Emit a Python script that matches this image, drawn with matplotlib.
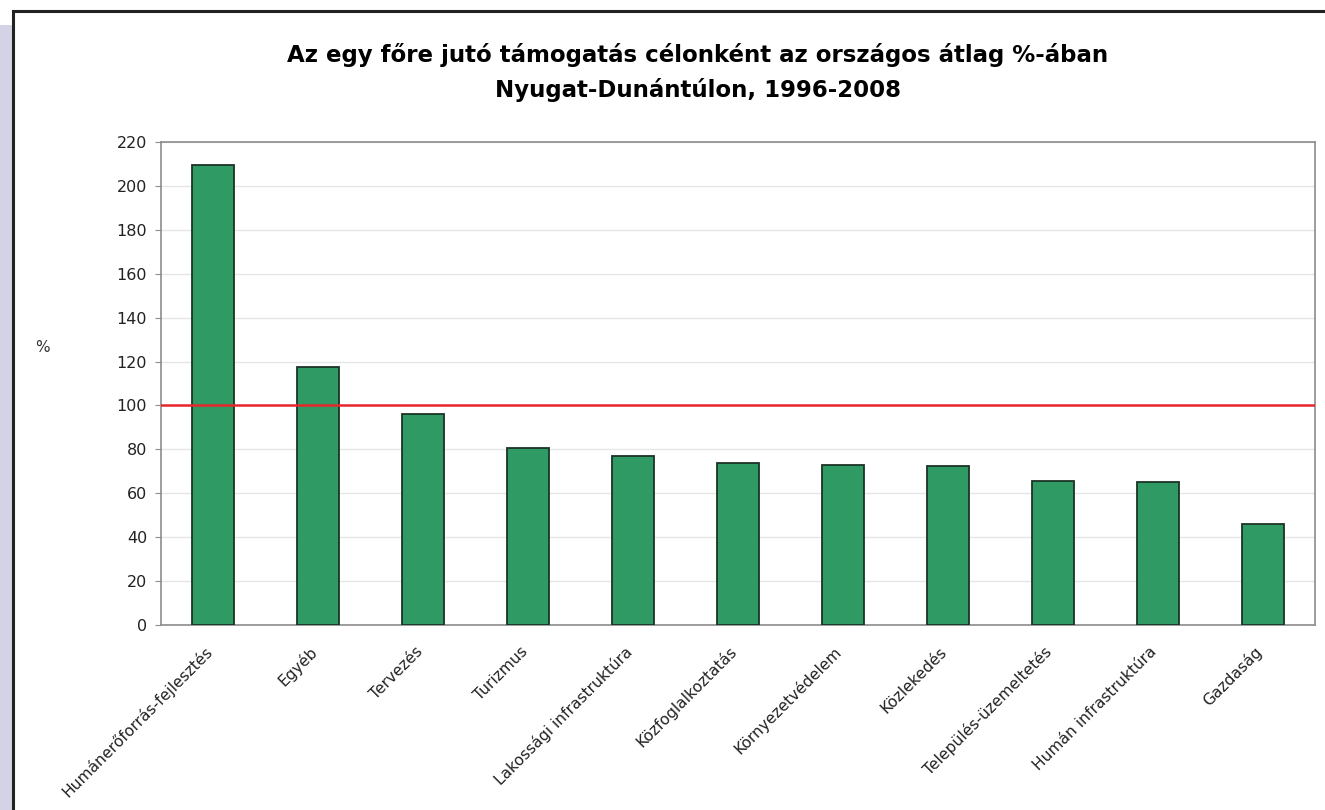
import matplotlib.pyplot as plt
from matplotlib.patches import Rectangle
from matplotlib.lines import Line2D
import numpy as np

categories = ['Humánerőforrás-fejlesztés', 'Egyéb', 'Tervezés', 'Turizmus',
              'Lakossági infrastruktúra', 'Közfoglalkoztatás', 'Környezetvédelem',
              'Közlekedés', 'Település-üzemeltetés', 'Humán infrastruktúra', 'Gazdaság']
values = [209.5, 117.5, 96, 80.5, 77, 74, 73, 72.5, 65.5, 65, 46]
national_avg = 100
title_lines = ['Az egy főre jutó támogatás célonként az országos átlag %-ában',
               'Nyugat-Dunántúlon, 1996-2008']

W, H = 1325, 810
fig = plt.figure(figsize=(W / 100, H / 100), dpi=100)
fig.patch.set_facecolor('white')

# lavender strip and black frame of the page
fig.patches.append(Rectangle((0, 0), 12 / W, 1 - 25 / H, transform=fig.transFigure,
                             facecolor='#d4d3e6', edgecolor='none', zorder=0))
fig.lines.append(Line2D([13 / W, 1], [1 - 11 / H, 1 - 11 / H], transform=fig.transFigure,
                        color='#222222', lw=2.2))
fig.lines.append(Line2D([13 / W, 13 / W], [0, 1 - 11 / H], transform=fig.transFigure,
                        color='#222222', lw=2.2))

ax = fig.add_axes([161 / W, 1 - 625 / H, (1315 - 161) / W, (625 - 142) / H])
x = np.arange(len(categories))
ax.bar(x, values, width=0.4, color='#2f9a63', edgecolor='#1c3326', linewidth=1.3, zorder=3)
ax.axhline(national_avg, color='#e8262e', lw=1.8, zorder=4)

ax.set_xlim(-0.5, len(categories) - 0.5)
ax.set_ylim(0, 220)
ax.set_yticks(np.arange(0, 221, 20))
ax.yaxis.grid(True, color='#e6e6e6', lw=1, zorder=0)
ax.set_axisbelow(True)
for s in ax.spines.values():
    s.set_color('#8c8c8c')
    s.set_linewidth(1.2)

ax.set_xticks(x)
ax.set_xticklabels(categories, rotation=45, ha='right', va='baseline',
                   rotation_mode='anchor', fontsize=11.2, color='#222222')
ax.tick_params(axis='x', length=0, pad=20)
ax.tick_params(axis='y', length=4, color='#8c8c8c', labelsize=11.5,
               labelcolor='#222222', pad=6)

fig.text(42 / W, 1 - 348 / H, '%', fontsize=11, color='#333333', ha='center', va='center')
fig.text(698 / W, 1 - 62 / H, title_lines[0], ha='center', va='baseline',
         fontsize=16.5, fontweight='bold')
fig.text(698 / W, 1 - 97 / H, title_lines[1], ha='center', va='baseline',
         fontsize=16.5, fontweight='bold')

fig.savefig('out.png', dpi=100)
